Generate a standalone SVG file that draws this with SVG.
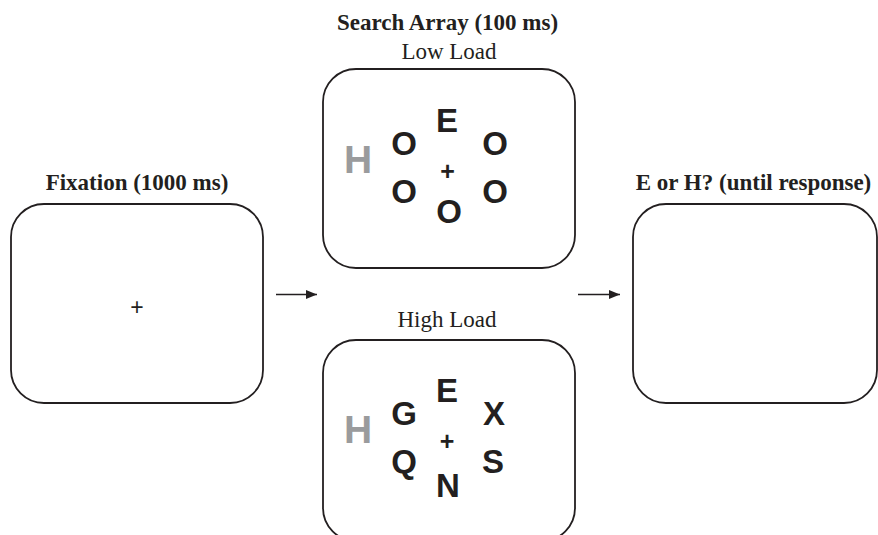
<svg xmlns="http://www.w3.org/2000/svg" width="878" height="535" viewBox="0 0 878 535">
  <style>
    .frame { fill: #ffffff; stroke: #231f20; stroke-width: 1.8; }
    .title { font-family: "Liberation Serif", "Times New Roman", serif; font-weight: bold; font-size: 23px; fill: #231f20; text-anchor: middle; }
    .sub { font-family: "Liberation Serif", "Times New Roman", serif; font-size: 23px; fill: #231f20; text-anchor: middle; }
    .ltr { font-family: "Liberation Sans", Arial, sans-serif; font-weight: bold; font-size: 33px; fill: #231f20; text-anchor: middle; }
    .target { font-family: "Liberation Sans", Arial, sans-serif; font-weight: bold; font-size: 39px; fill: #9a9b9d; text-anchor: middle; }
    .fix { font-family: "Liberation Sans", Arial, sans-serif; font-weight: bold; font-size: 25px; fill: #231f20; text-anchor: middle; }
    .fix-thin { font-family: "Liberation Sans", Arial, sans-serif; font-size: 23px; fill: #231f20; text-anchor: middle; }
    .conn { stroke: #231f20; stroke-width: 1.6; fill: none; }
  </style>
  <defs>
    <marker id="arrow" markerWidth="12" markerHeight="10" refX="11" refY="5" orient="auto" markerUnits="userSpaceOnUse">
      <path d="M0,0.5 L11,5 L0,9.5 Z" fill="#231f20"/>
    </marker>
  </defs>

  <rect width="878" height="535" fill="#ffffff"/>

  <!-- fixation screen -->
  <g id="fixation">
    <text class="title" x="137" y="190">Fixation (1000 ms)</text>
    <rect class="frame" x="11" y="204" width="252" height="199" rx="33" ry="33"/>
    <text class="fix-thin" x="137" y="315">+</text>
  </g>

  <!-- search array, low load -->
  <g id="low-load">
    <text class="title" x="447.5" y="30">Search Array (100 ms)</text>
    <text class="sub" x="449" y="59">Low Load</text>
    <rect class="frame" x="323" y="69" width="252" height="199" rx="33" ry="33"/>
    <text class="target" x="358" y="173">H</text>
    <text class="ltr" x="447" y="131.5">E</text>
    <text class="ltr" x="404" y="155">O</text>
    <text class="ltr" x="495" y="155">O</text>
    <text class="ltr" x="404" y="203">O</text>
    <text class="ltr" x="495" y="203">O</text>
    <text class="ltr" x="449" y="223">O</text>
    <text class="fix" x="447.5" y="180">+</text>
  </g>

  <!-- search array, high load -->
  <g id="high-load">
    <text class="sub" x="447" y="327">High Load</text>
    <rect class="frame" x="323" y="340" width="252" height="201" rx="33" ry="33"/>
    <text class="target" x="358" y="443">H</text>
    <text class="ltr" x="447" y="402">E</text>
    <text class="ltr" x="404" y="425">G</text>
    <text class="ltr" x="494" y="425">X</text>
    <text class="ltr" x="404" y="473">Q</text>
    <text class="ltr" x="493" y="473">S</text>
    <text class="ltr" x="448" y="497">N</text>
    <text class="fix" x="447" y="449.5">+</text>
  </g>

  <!-- response screen -->
  <g id="response">
    <text class="title" x="753.5" y="190">E or H? (until response)</text>
    <rect class="frame" x="633" y="204" width="244" height="199" rx="33" ry="33"/>
  </g>

  <g id="connectors">
    <line class="conn" x1="276" y1="294.5" x2="317" y2="294.5" marker-end="url(#arrow)"/>
    <line class="conn" x1="578" y1="294.5" x2="620" y2="294.5" marker-end="url(#arrow)"/>
  </g>
</svg>
